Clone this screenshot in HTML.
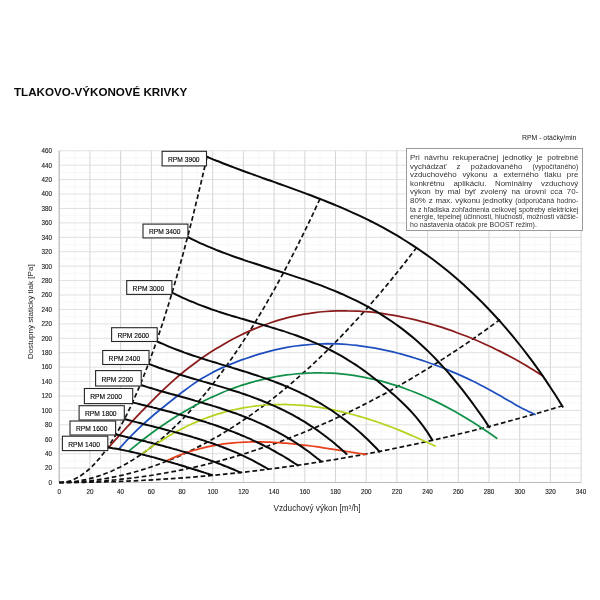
<!DOCTYPE html>
<html lang="sk">
<head>
<meta charset="utf-8">
<title>Tlakovo-výkonové krivky</title>
<style>
html,body{margin:0;padding:0;background:#fff;}
body{width:600px;height:600px;position:relative;overflow:hidden;font-family:"Liberation Sans",sans-serif;}
svg{filter:blur(0.3px);}
#note{filter:blur(0.3px);}
svg text{font-family:"Liberation Sans",sans-serif;fill:#222;}
.mn{stroke:#f7f7f7;stroke-width:0.9;}
.mj{stroke:#cecece;stroke-width:0.85;}
.mh{stroke:#dbdbdb;stroke-width:0.85;}
.ax{stroke:#bcbcbc;stroke-width:1.1;}
.tk{font-size:6.3px;fill:#1a1a1a;stroke:#1a1a1a;stroke-width:0.12;}
.ds{fill:none;stroke:#111;stroke-width:1.7;}
.rp{fill:none;stroke:#0a0a0a;stroke-width:2.0;stroke-linecap:round;}
.bx{fill:#fff;stroke:#262626;stroke-width:1.1;}
.lb{font-size:6.7px;fill:#000;stroke:#000;stroke-width:0.12;}
.at{font-size:8.2px;fill:#222;}
.ti{font-size:11.6px;font-weight:bold;fill:#080808;}
.rn{font-size:6.9px;fill:#222;}
#note{position:absolute;left:406px;top:148.2px;width:174.6px;height:81.3px;border:1px solid #9a9a9a;background:#fff;}
#note div{position:absolute;left:3.1px;width:168.2px;height:8px;line-height:8px;font-size:7.9px;color:#333;white-space:nowrap;text-align:justify;text-align-last:justify;}
#note div.sm{font-size:6.95px;}
#note div.last{text-align-last:left;}
#note span{font-size:6.95px;}
</style>
</head>
<body>
<svg width="600" height="600" viewBox="0 0 600 600" style="position:absolute;left:0;top:0">
<g><line x1="74.55" y1="150.79" x2="74.55" y2="482.50" class="mn"/><line x1="105.25" y1="150.79" x2="105.25" y2="482.50" class="mn"/><line x1="135.95" y1="150.79" x2="135.95" y2="482.50" class="mn"/><line x1="166.65" y1="150.79" x2="166.65" y2="482.50" class="mn"/><line x1="197.35" y1="150.79" x2="197.35" y2="482.50" class="mn"/><line x1="228.05" y1="150.79" x2="228.05" y2="482.50" class="mn"/><line x1="258.75" y1="150.79" x2="258.75" y2="482.50" class="mn"/><line x1="289.45" y1="150.79" x2="289.45" y2="482.50" class="mn"/><line x1="320.15" y1="150.79" x2="320.15" y2="482.50" class="mn"/><line x1="350.85" y1="150.79" x2="350.85" y2="482.50" class="mn"/><line x1="381.55" y1="150.79" x2="381.55" y2="482.50" class="mn"/><line x1="412.25" y1="150.79" x2="412.25" y2="482.50" class="mn"/><line x1="442.95" y1="150.79" x2="442.95" y2="482.50" class="mn"/><line x1="473.65" y1="150.79" x2="473.65" y2="482.50" class="mn"/><line x1="504.35" y1="150.79" x2="504.35" y2="482.50" class="mn"/><line x1="535.05" y1="150.79" x2="535.05" y2="482.50" class="mn"/><line x1="565.75" y1="150.79" x2="565.75" y2="482.50" class="mn"/><line x1="59.20" y1="475.29" x2="581.10" y2="475.29" class="mn"/><line x1="59.20" y1="460.87" x2="581.10" y2="460.87" class="mn"/><line x1="59.20" y1="446.44" x2="581.10" y2="446.44" class="mn"/><line x1="59.20" y1="432.02" x2="581.10" y2="432.02" class="mn"/><line x1="59.20" y1="417.60" x2="581.10" y2="417.60" class="mn"/><line x1="59.20" y1="403.18" x2="581.10" y2="403.18" class="mn"/><line x1="59.20" y1="388.76" x2="581.10" y2="388.76" class="mn"/><line x1="59.20" y1="374.34" x2="581.10" y2="374.34" class="mn"/><line x1="59.20" y1="359.91" x2="581.10" y2="359.91" class="mn"/><line x1="59.20" y1="345.49" x2="581.10" y2="345.49" class="mn"/><line x1="59.20" y1="331.07" x2="581.10" y2="331.07" class="mn"/><line x1="59.20" y1="316.65" x2="581.10" y2="316.65" class="mn"/><line x1="59.20" y1="302.23" x2="581.10" y2="302.23" class="mn"/><line x1="59.20" y1="287.80" x2="581.10" y2="287.80" class="mn"/><line x1="59.20" y1="273.38" x2="581.10" y2="273.38" class="mn"/><line x1="59.20" y1="258.96" x2="581.10" y2="258.96" class="mn"/><line x1="59.20" y1="244.54" x2="581.10" y2="244.54" class="mn"/><line x1="59.20" y1="230.12" x2="581.10" y2="230.12" class="mn"/><line x1="59.20" y1="215.69" x2="581.10" y2="215.69" class="mn"/><line x1="59.20" y1="201.27" x2="581.10" y2="201.27" class="mn"/><line x1="59.20" y1="186.85" x2="581.10" y2="186.85" class="mn"/><line x1="59.20" y1="172.43" x2="581.10" y2="172.43" class="mn"/><line x1="59.20" y1="158.00" x2="581.10" y2="158.00" class="mn"/><line x1="59.20" y1="150.79" x2="59.20" y2="482.50" class="mj"/><line x1="89.90" y1="150.79" x2="89.90" y2="482.50" class="mj"/><line x1="120.60" y1="150.79" x2="120.60" y2="482.50" class="mj"/><line x1="151.30" y1="150.79" x2="151.30" y2="482.50" class="mj"/><line x1="182.00" y1="150.79" x2="182.00" y2="482.50" class="mj"/><line x1="212.70" y1="150.79" x2="212.70" y2="482.50" class="mj"/><line x1="243.40" y1="150.79" x2="243.40" y2="482.50" class="mj"/><line x1="274.10" y1="150.79" x2="274.10" y2="482.50" class="mj"/><line x1="304.80" y1="150.79" x2="304.80" y2="482.50" class="mj"/><line x1="335.50" y1="150.79" x2="335.50" y2="482.50" class="mj"/><line x1="366.20" y1="150.79" x2="366.20" y2="482.50" class="mj"/><line x1="396.90" y1="150.79" x2="396.90" y2="482.50" class="mj"/><line x1="427.60" y1="150.79" x2="427.60" y2="482.50" class="mj"/><line x1="458.30" y1="150.79" x2="458.30" y2="482.50" class="mj"/><line x1="489.00" y1="150.79" x2="489.00" y2="482.50" class="mj"/><line x1="519.70" y1="150.79" x2="519.70" y2="482.50" class="mj"/><line x1="550.40" y1="150.79" x2="550.40" y2="482.50" class="mj"/><line x1="581.10" y1="150.79" x2="581.10" y2="482.50" class="mj"/><line x1="59.20" y1="482.50" x2="581.10" y2="482.50" class="mh"/><line x1="59.20" y1="468.08" x2="581.10" y2="468.08" class="mh"/><line x1="59.20" y1="453.66" x2="581.10" y2="453.66" class="mh"/><line x1="59.20" y1="439.23" x2="581.10" y2="439.23" class="mh"/><line x1="59.20" y1="424.81" x2="581.10" y2="424.81" class="mh"/><line x1="59.20" y1="410.39" x2="581.10" y2="410.39" class="mh"/><line x1="59.20" y1="395.97" x2="581.10" y2="395.97" class="mh"/><line x1="59.20" y1="381.55" x2="581.10" y2="381.55" class="mh"/><line x1="59.20" y1="367.12" x2="581.10" y2="367.12" class="mh"/><line x1="59.20" y1="352.70" x2="581.10" y2="352.70" class="mh"/><line x1="59.20" y1="338.28" x2="581.10" y2="338.28" class="mh"/><line x1="59.20" y1="323.86" x2="581.10" y2="323.86" class="mh"/><line x1="59.20" y1="309.44" x2="581.10" y2="309.44" class="mh"/><line x1="59.20" y1="295.01" x2="581.10" y2="295.01" class="mh"/><line x1="59.20" y1="280.59" x2="581.10" y2="280.59" class="mh"/><line x1="59.20" y1="266.17" x2="581.10" y2="266.17" class="mh"/><line x1="59.20" y1="251.75" x2="581.10" y2="251.75" class="mh"/><line x1="59.20" y1="237.33" x2="581.10" y2="237.33" class="mh"/><line x1="59.20" y1="222.90" x2="581.10" y2="222.90" class="mh"/><line x1="59.20" y1="208.48" x2="581.10" y2="208.48" class="mh"/><line x1="59.20" y1="194.06" x2="581.10" y2="194.06" class="mh"/><line x1="59.20" y1="179.64" x2="581.10" y2="179.64" class="mh"/><line x1="59.20" y1="165.22" x2="581.10" y2="165.22" class="mh"/><line x1="59.20" y1="150.79" x2="581.10" y2="150.79" class="mh"/></g>
<line x1="59.20" y1="150.79" x2="59.20" y2="482.50" class="ax"/>
<line x1="59.20" y1="482.50" x2="581.10" y2="482.50" class="ax"/>
<g><text x="52" y="484.8" text-anchor="end" class="tk">0</text><text x="52" y="470.4" text-anchor="end" class="tk">20</text><text x="52" y="456.0" text-anchor="end" class="tk">40</text><text x="52" y="441.5" text-anchor="end" class="tk">60</text><text x="52" y="427.1" text-anchor="end" class="tk">80</text><text x="52" y="412.7" text-anchor="end" class="tk">100</text><text x="52" y="398.3" text-anchor="end" class="tk">120</text><text x="52" y="383.8" text-anchor="end" class="tk">140</text><text x="52" y="369.4" text-anchor="end" class="tk">160</text><text x="52" y="355.0" text-anchor="end" class="tk">180</text><text x="52" y="340.6" text-anchor="end" class="tk">200</text><text x="52" y="326.2" text-anchor="end" class="tk">220</text><text x="52" y="311.7" text-anchor="end" class="tk">240</text><text x="52" y="297.3" text-anchor="end" class="tk">260</text><text x="52" y="282.9" text-anchor="end" class="tk">280</text><text x="52" y="268.5" text-anchor="end" class="tk">300</text><text x="52" y="254.0" text-anchor="end" class="tk">320</text><text x="52" y="239.6" text-anchor="end" class="tk">340</text><text x="52" y="225.2" text-anchor="end" class="tk">360</text><text x="52" y="210.8" text-anchor="end" class="tk">380</text><text x="52" y="196.4" text-anchor="end" class="tk">400</text><text x="52" y="181.9" text-anchor="end" class="tk">420</text><text x="52" y="167.5" text-anchor="end" class="tk">440</text><text x="52" y="153.1" text-anchor="end" class="tk">460</text><text x="59.2" y="494.2" text-anchor="middle" class="tk">0</text><text x="89.9" y="494.2" text-anchor="middle" class="tk">20</text><text x="120.6" y="494.2" text-anchor="middle" class="tk">40</text><text x="151.3" y="494.2" text-anchor="middle" class="tk">60</text><text x="182.0" y="494.2" text-anchor="middle" class="tk">80</text><text x="212.7" y="494.2" text-anchor="middle" class="tk">100</text><text x="243.4" y="494.2" text-anchor="middle" class="tk">120</text><text x="274.1" y="494.2" text-anchor="middle" class="tk">140</text><text x="304.8" y="494.2" text-anchor="middle" class="tk">160</text><text x="335.5" y="494.2" text-anchor="middle" class="tk">180</text><text x="366.2" y="494.2" text-anchor="middle" class="tk">200</text><text x="396.9" y="494.2" text-anchor="middle" class="tk">220</text><text x="427.6" y="494.2" text-anchor="middle" class="tk">240</text><text x="458.3" y="494.2" text-anchor="middle" class="tk">260</text><text x="489.0" y="494.2" text-anchor="middle" class="tk">280</text><text x="519.7" y="494.2" text-anchor="middle" class="tk">300</text><text x="550.4" y="494.2" text-anchor="middle" class="tk">320</text><text x="581.1" y="494.2" text-anchor="middle" class="tk">340</text></g>
<path d="M59.2 482.5 C59.8 482.5 61.7 482.4 62.9 482.3 C64.1 482.2 65.3 482.0 66.6 481.7 C67.8 481.4 69.0 481.1 70.3 480.7 C71.5 480.3 72.7 479.8 74.0 479.3 C75.2 478.7 76.4 478.1 77.6 477.4 C78.9 476.8 80.1 476.0 81.3 475.2 C82.6 474.4 83.8 473.5 85.0 472.6 C86.2 471.6 87.5 470.6 88.7 469.5 C89.9 468.4 91.2 467.3 92.4 466.1 C93.6 464.9 94.8 463.6 96.1 462.2 C97.3 460.9 98.5 459.5 99.8 458.0 C101.0 456.5 102.2 454.9 103.5 453.3 C104.7 451.7 105.9 450.0 107.1 448.2 C108.4 446.5 109.6 444.7 110.8 442.8 C112.1 440.9 113.3 438.9 114.5 436.9 C115.7 434.9 117.0 432.8 118.2 430.6 C119.4 428.4 120.7 426.2 121.9 423.9 C123.1 421.6 124.4 419.3 125.6 416.8 C126.8 414.4 128.0 411.9 129.3 409.3 C130.5 406.8 131.7 404.1 133.0 401.4 C134.2 398.7 135.4 395.9 136.6 393.1 C137.9 390.3 139.1 387.4 140.3 384.4 C141.6 381.4 142.8 378.4 144.0 375.3 C145.2 372.2 146.5 369.0 147.7 365.7 C148.9 362.5 150.2 359.2 151.4 355.8 C152.6 352.4 153.9 349.0 155.1 345.5 C156.3 342.0 157.5 338.4 158.8 334.7 C160.0 331.1 161.2 327.4 162.5 323.6 C163.7 319.8 164.9 315.9 166.1 312.0 C167.4 308.1 168.6 304.1 169.8 300.1 C171.1 296.0 172.3 291.9 173.5 287.7 C174.8 283.5 176.0 279.3 177.2 274.9 C178.4 270.6 179.7 266.2 180.9 261.8 C182.1 257.3 183.4 252.8 184.6 248.2 C185.8 243.6 187.0 238.9 188.3 234.2 C189.5 229.5 190.7 224.7 192.0 219.8 C193.2 214.9 194.4 210.0 195.6 205.0 C196.9 200.0 198.1 194.9 199.3 189.8 C200.6 184.7 201.8 179.5 203.0 174.2 C204.3 168.9 206.1 160.9 206.7 158.2" class="ds" stroke-dasharray="4.70 2.74"/>
<path d="M59.2 482.5 C60.3 482.5 63.5 482.4 65.7 482.3 C67.9 482.2 70.1 482.0 72.2 481.8 C74.4 481.6 76.6 481.3 78.8 480.9 C80.9 480.5 83.1 480.1 85.3 479.7 C87.5 479.2 89.6 478.7 91.8 478.1 C94.0 477.5 96.1 476.8 98.3 476.1 C100.5 475.4 102.7 474.6 104.8 473.8 C107.0 473.0 109.2 472.1 111.4 471.2 C113.5 470.2 115.7 469.2 117.9 468.1 C120.1 467.1 122.2 466.0 124.4 464.8 C126.6 463.6 128.7 462.3 130.9 461.0 C133.1 459.7 135.3 458.4 137.4 457.0 C139.6 455.5 141.8 454.1 144.0 452.5 C146.1 451.0 148.3 449.4 150.5 447.7 C152.7 446.1 154.8 444.4 157.0 442.6 C159.2 440.8 161.3 439.0 163.5 437.1 C165.7 435.2 167.9 433.3 170.0 431.3 C172.2 429.2 174.4 427.2 176.6 425.0 C178.7 422.9 180.9 420.7 183.1 418.5 C185.3 416.2 187.4 413.9 189.6 411.6 C191.8 409.2 193.9 406.8 196.1 404.3 C198.3 401.8 200.5 399.3 202.6 396.7 C204.8 394.1 207.0 391.4 209.2 388.7 C211.3 386.0 213.5 383.2 215.7 380.4 C217.9 377.5 220.0 374.6 222.2 371.7 C224.4 368.7 226.5 365.7 228.7 362.6 C230.9 359.6 233.1 356.4 235.2 353.2 C237.4 350.0 239.6 346.8 241.8 343.5 C243.9 340.2 246.1 336.8 248.3 333.4 C250.5 329.9 252.6 326.5 254.8 322.9 C257.0 319.4 259.1 315.8 261.3 312.1 C263.5 308.4 265.7 304.7 267.8 300.9 C270.0 297.1 272.2 293.3 274.4 289.4 C276.5 285.5 278.7 281.5 280.9 277.5 C283.1 273.5 285.2 269.4 287.4 265.3 C289.6 261.1 291.7 256.9 293.9 252.7 C296.1 248.4 298.3 244.1 300.4 239.7 C302.6 235.4 304.8 230.9 307.0 226.4 C309.1 222.0 311.3 217.4 313.5 212.8 C315.6 208.2 318.9 201.1 320.0 198.8" class="ds" stroke-dasharray="4.70 2.82"/>
<path d="M59.2 482.5 C60.7 482.5 65.2 482.5 68.1 482.4 C71.1 482.3 74.1 482.1 77.1 481.9 C80.1 481.7 83.0 481.5 86.0 481.2 C89.0 480.9 92.0 480.5 95.0 480.1 C97.9 479.8 100.9 479.3 103.9 478.8 C106.9 478.3 109.8 477.8 112.8 477.2 C115.8 476.6 118.8 476.0 121.8 475.3 C124.7 474.6 127.7 473.9 130.7 473.1 C133.7 472.3 136.7 471.5 139.6 470.6 C142.6 469.7 145.6 468.8 148.6 467.8 C151.6 466.8 154.5 465.8 157.5 464.7 C160.5 463.6 163.5 462.5 166.5 461.3 C169.4 460.2 172.4 458.9 175.4 457.7 C178.4 456.4 181.3 455.1 184.3 453.7 C187.3 452.3 190.3 450.9 193.3 449.4 C196.2 448.0 199.2 446.5 202.2 444.9 C205.2 443.3 208.2 441.7 211.1 440.0 C214.1 438.4 217.1 436.7 220.1 434.9 C223.1 433.1 226.0 431.3 229.0 429.5 C232.0 427.6 235.0 425.7 238.0 423.7 C240.9 421.8 243.9 419.8 246.9 417.7 C249.9 415.7 252.8 413.5 255.8 411.4 C258.8 409.2 261.8 407.0 264.8 404.8 C267.7 402.5 270.7 400.2 273.7 397.9 C276.7 395.5 279.7 393.1 282.6 390.7 C285.6 388.2 288.6 385.7 291.6 383.2 C294.6 380.6 297.5 378.0 300.5 375.4 C303.5 372.7 306.5 370.1 309.5 367.3 C312.4 364.6 315.4 361.8 318.4 358.9 C321.4 356.1 324.3 353.2 327.3 350.3 C330.3 347.3 333.3 344.3 336.3 341.3 C339.2 338.3 342.2 335.2 345.2 332.1 C348.2 328.9 351.2 325.7 354.1 322.5 C357.1 319.3 360.1 316.0 363.1 312.7 C366.1 309.3 369.0 305.9 372.0 302.5 C375.0 299.1 378.0 295.6 381.0 292.1 C383.9 288.6 386.9 285.0 389.9 281.4 C392.9 277.7 395.8 274.1 398.8 270.3 C401.8 266.6 404.8 262.9 407.8 259.0 C410.7 255.2 415.2 249.4 416.7 247.4" class="ds" stroke-dasharray="4.70 2.86"/>
<path d="M59.2 482.5 C61.0 482.5 66.5 482.5 70.2 482.4 C73.9 482.3 77.6 482.2 81.2 482.1 C84.9 482.0 88.6 481.8 92.3 481.6 C95.9 481.4 99.6 481.1 103.3 480.9 C107.0 480.6 110.6 480.3 114.3 480.0 C118.0 479.6 121.7 479.2 125.3 478.8 C129.0 478.4 132.7 478.0 136.3 477.5 C140.0 477.0 143.7 476.5 147.4 476.0 C151.0 475.4 154.7 474.9 158.4 474.2 C162.1 473.6 165.7 473.0 169.4 472.3 C173.1 471.6 176.8 470.9 180.4 470.2 C184.1 469.4 187.8 468.6 191.5 467.8 C195.1 467.0 198.8 466.2 202.5 465.3 C206.2 464.4 209.8 463.5 213.5 462.5 C217.2 461.6 220.8 460.6 224.5 459.6 C228.2 458.6 231.9 457.5 235.5 456.4 C239.2 455.3 242.9 454.2 246.6 453.1 C250.2 451.9 253.9 450.7 257.6 449.5 C261.3 448.3 264.9 447.0 268.6 445.7 C272.3 444.4 276.0 443.1 279.6 441.8 C283.3 440.4 287.0 439.0 290.6 437.6 C294.3 436.2 298.0 434.7 301.7 433.2 C305.3 431.7 309.0 430.2 312.7 428.6 C316.4 427.1 320.0 425.5 323.7 423.8 C327.4 422.2 331.1 420.5 334.7 418.8 C338.4 417.1 342.1 415.4 345.8 413.6 C349.4 411.9 353.1 410.1 356.8 408.2 C360.4 406.4 364.1 404.5 367.8 402.6 C371.5 400.7 375.1 398.8 378.8 396.8 C382.5 394.9 386.2 392.9 389.8 390.8 C393.5 388.8 397.2 386.7 400.9 384.6 C404.5 382.5 408.2 380.4 411.9 378.2 C415.6 376.0 419.2 373.8 422.9 371.6 C426.6 369.3 430.3 367.1 433.9 364.8 C437.6 362.4 441.3 360.1 444.9 357.7 C448.6 355.3 452.3 352.9 456.0 350.5 C459.6 348.0 463.3 345.6 467.0 343.1 C470.7 340.5 474.3 338.0 478.0 335.4 C481.7 332.8 485.4 330.2 489.0 327.6 C492.7 324.9 498.2 320.9 500.1 319.5" class="ds" stroke-dasharray="4.70 2.82"/>
<path d="M59.2 482.5 C61.3 482.5 67.6 482.5 71.8 482.5 C76.0 482.4 80.2 482.4 84.4 482.3 C88.6 482.2 92.8 482.2 97.0 482.1 C101.2 482.0 105.4 481.9 109.5 481.7 C113.7 481.6 117.9 481.5 122.1 481.3 C126.3 481.1 130.5 481.0 134.7 480.8 C138.9 480.6 143.1 480.4 147.3 480.1 C151.5 479.9 155.7 479.7 159.9 479.4 C164.1 479.2 168.3 478.9 172.5 478.6 C176.7 478.3 180.9 478.0 185.1 477.7 C189.3 477.4 193.5 477.0 197.7 476.7 C201.9 476.3 206.0 476.0 210.2 475.6 C214.4 475.2 218.6 474.8 222.8 474.4 C227.0 474.0 231.2 473.5 235.4 473.1 C239.6 472.6 243.8 472.2 248.0 471.7 C252.2 471.2 256.4 470.7 260.6 470.2 C264.8 469.7 269.0 469.2 273.2 468.6 C277.4 468.1 281.6 467.5 285.8 466.9 C290.0 466.4 294.2 465.8 298.4 465.2 C302.5 464.6 306.7 463.9 310.9 463.3 C315.1 462.7 319.3 462.0 323.5 461.3 C327.7 460.7 331.9 460.0 336.1 459.3 C340.3 458.6 344.5 457.8 348.7 457.1 C352.9 456.4 357.1 455.6 361.3 454.9 C365.5 454.1 369.7 453.3 373.9 452.5 C378.1 451.7 382.3 450.9 386.5 450.1 C390.7 449.2 394.9 448.4 399.0 447.5 C403.2 446.6 407.4 445.8 411.6 444.9 C415.8 444.0 420.0 443.1 424.2 442.1 C428.4 441.2 432.6 440.3 436.8 439.3 C441.0 438.3 445.2 437.4 449.4 436.4 C453.6 435.4 457.8 434.4 462.0 433.3 C466.2 432.3 470.4 431.3 474.6 430.2 C478.8 429.2 483.0 428.1 487.2 427.0 C491.4 425.9 495.5 424.8 499.7 423.7 C503.9 422.6 508.1 421.4 512.3 420.3 C516.5 419.1 520.7 418.0 524.9 416.8 C529.1 415.6 533.3 414.4 537.5 413.2 C541.7 412.0 545.9 410.7 550.1 409.5 C554.3 408.2 560.6 406.3 562.7 405.7" class="ds" stroke-dasharray="4.70 2.75"/>
<path d="M108.7 447.5 C110.5 445.5 115.9 439.2 119.5 435.2 C123.2 431.2 126.8 427.2 130.4 423.4 C134.0 419.5 137.6 415.7 141.2 411.9 C144.9 408.2 148.5 404.5 152.1 400.9 C155.7 397.3 159.3 393.7 162.9 390.2 C166.6 386.8 170.2 383.4 173.8 380.1 C177.4 376.9 181.0 373.9 184.6 371.0 C188.2 368.1 191.9 365.3 195.5 362.7 C199.1 360.0 202.7 357.5 206.3 355.1 C209.9 352.6 213.6 350.3 217.2 348.1 C220.8 345.9 224.4 343.8 228.0 341.7 C231.6 339.7 235.3 337.8 238.9 336.0 C242.5 334.2 246.1 332.5 249.7 330.9 C253.3 329.3 256.9 327.8 260.6 326.4 C264.2 325.0 267.8 323.7 271.4 322.5 C275.0 321.3 278.6 320.2 282.3 319.2 C285.9 318.2 289.5 317.3 293.1 316.4 C296.7 315.6 300.3 314.9 304.0 314.2 C307.6 313.6 311.2 313.1 314.8 312.6 C318.4 312.1 322.0 311.8 325.6 311.5 C329.3 311.2 332.9 311.0 336.5 310.9 C340.1 310.8 343.7 310.7 347.3 310.8 C351.0 310.8 354.6 310.9 358.2 311.1 C361.8 311.3 365.4 311.6 369.0 311.9 C372.7 312.2 376.3 312.7 379.9 313.1 C383.5 313.6 387.1 314.2 390.7 314.8 C394.4 315.4 398.0 316.1 401.6 316.8 C405.2 317.5 408.8 318.3 412.4 319.2 C416.0 320.0 419.7 321.0 423.3 321.9 C426.9 322.9 430.5 323.9 434.1 325.0 C437.7 326.1 441.4 327.2 445.0 328.4 C448.6 329.6 452.2 330.9 455.8 332.2 C459.4 333.5 463.1 334.9 466.7 336.3 C470.3 337.8 473.9 339.3 477.5 340.8 C481.1 342.4 484.7 344.0 488.4 345.7 C492.0 347.4 495.6 349.1 499.2 350.9 C502.8 352.7 506.4 354.6 510.1 356.6 C513.7 358.5 517.3 360.5 520.9 362.6 C524.5 364.6 528.1 366.8 531.8 369.0 C535.4 371.2 540.8 374.7 542.6 375.8" fill="none" stroke="#8b1a1a" stroke-width="1.75" stroke-linecap="round"/>
<path d="M119.0 449.0 C120.7 447.1 125.9 441.2 129.4 437.6 C132.9 434.0 136.3 430.6 139.8 427.3 C143.3 424.1 146.7 421.0 150.2 418.0 C153.7 415.0 157.1 412.1 160.6 409.3 C164.1 406.5 167.5 403.7 171.0 401.0 C174.5 398.2 177.9 395.5 181.4 392.8 C184.9 390.2 188.3 387.6 191.8 385.1 C195.3 382.7 198.7 380.4 202.2 378.3 C205.7 376.2 209.1 374.3 212.6 372.4 C216.1 370.6 219.5 369.0 223.0 367.4 C226.5 365.9 229.9 364.4 233.4 363.1 C236.9 361.7 240.3 360.4 243.8 359.2 C247.3 358.0 250.7 356.8 254.2 355.7 C257.7 354.6 261.1 353.6 264.6 352.6 C268.1 351.6 271.5 350.7 275.0 349.9 C278.5 349.1 281.9 348.4 285.4 347.7 C288.9 347.1 292.3 346.5 295.8 346.0 C299.3 345.5 302.7 345.1 306.2 344.8 C309.7 344.4 313.1 344.2 316.6 344.0 C320.1 343.8 323.5 343.8 327.0 343.7 C330.5 343.7 333.9 343.8 337.4 343.9 C340.9 344.1 344.3 344.3 347.8 344.5 C351.3 344.8 354.7 345.2 358.2 345.6 C361.7 346.0 365.1 346.5 368.6 347.1 C372.1 347.6 375.5 348.2 379.0 348.9 C382.5 349.6 385.9 350.3 389.4 351.1 C392.9 351.9 396.3 352.8 399.8 353.7 C403.3 354.6 406.7 355.6 410.2 356.6 C413.7 357.7 417.1 358.8 420.6 359.9 C424.1 361.0 427.5 362.2 431.0 363.5 C434.5 364.7 437.9 366.0 441.4 367.3 C444.9 368.7 448.3 370.1 451.8 371.6 C455.3 373.0 458.7 374.5 462.2 376.1 C465.7 377.7 469.1 379.3 472.6 381.0 C476.1 382.7 479.5 384.5 483.0 386.3 C486.5 388.1 489.9 390.0 493.4 391.9 C496.9 393.8 500.3 395.9 503.8 397.9 C507.3 399.8 510.7 401.9 514.2 403.9 C517.7 405.8 521.1 407.8 524.6 409.5 C528.1 411.3 533.3 413.7 535.0 414.5" fill="none" stroke="#1f4fbf" stroke-width="1.75" stroke-linecap="round"/>
<path d="M129.4 450.6 C130.9 449.4 135.5 445.5 138.6 443.1 C141.6 440.7 144.7 438.3 147.8 436.0 C150.8 433.7 153.9 431.5 156.9 429.3 C160.0 427.1 163.1 425.0 166.1 423.0 C169.2 420.9 172.3 418.9 175.3 417.0 C178.4 415.1 181.4 413.3 184.5 411.5 C187.6 409.7 190.6 407.9 193.7 406.3 C196.7 404.6 199.8 403.0 202.9 401.5 C205.9 399.9 209.0 398.5 212.0 397.1 C215.1 395.6 218.2 394.3 221.2 393.0 C224.3 391.7 227.3 390.5 230.4 389.3 C233.5 388.2 236.5 387.1 239.6 386.0 C242.7 385.0 245.7 384.0 248.8 383.1 C251.8 382.2 254.9 381.3 258.0 380.6 C261.0 379.8 264.1 379.0 267.1 378.4 C270.2 377.7 273.3 377.1 276.3 376.5 C279.4 376.0 282.4 375.5 285.5 375.1 C288.6 374.7 291.6 374.3 294.7 374.0 C297.7 373.7 300.8 373.4 303.9 373.3 C306.9 373.1 310.0 372.9 313.0 372.9 C316.1 372.8 319.2 372.8 322.2 372.9 C325.3 372.9 328.4 373.0 331.4 373.2 C334.5 373.4 337.5 373.6 340.6 373.9 C343.7 374.2 346.7 374.5 349.8 374.9 C352.8 375.3 355.9 375.8 359.0 376.3 C362.0 376.9 365.1 377.4 368.1 378.1 C371.2 378.7 374.3 379.4 377.3 380.2 C380.4 380.9 383.4 381.7 386.5 382.6 C389.6 383.5 392.6 384.4 395.7 385.4 C398.8 386.4 401.8 387.4 404.9 388.5 C407.9 389.6 411.0 390.8 414.1 392.0 C417.1 393.2 420.2 394.5 423.2 395.8 C426.3 397.1 429.4 398.5 432.4 399.9 C435.5 401.4 438.5 402.9 441.6 404.4 C444.7 406.0 447.7 407.6 450.8 409.3 C453.8 410.9 456.9 412.6 460.0 414.4 C463.0 416.2 466.1 418.0 469.2 419.9 C472.2 421.8 475.3 423.7 478.3 425.7 C481.4 427.7 484.5 429.7 487.5 431.8 C490.6 433.9 495.2 437.2 496.7 438.3" fill="none" stroke="#109048" stroke-width="1.75" stroke-linecap="round"/>
<path d="M142.0 454.0 C143.2 453.1 146.9 450.4 149.3 448.6 C151.8 446.9 154.2 445.2 156.7 443.6 C159.1 442.0 161.5 440.4 164.0 438.9 C166.4 437.4 168.9 435.9 171.3 434.5 C173.7 433.1 176.2 431.8 178.6 430.5 C181.1 429.2 183.5 427.9 185.9 426.7 C188.4 425.5 190.8 424.4 193.3 423.3 C195.7 422.2 198.2 421.2 200.6 420.2 C203.0 419.2 205.5 418.3 207.9 417.4 C210.4 416.5 212.8 415.7 215.2 414.9 C217.7 414.1 220.1 413.3 222.6 412.6 C225.0 411.9 227.5 411.3 229.9 410.7 C232.3 410.1 234.8 409.5 237.2 409.0 C239.7 408.5 242.1 408.0 244.6 407.6 C247.0 407.2 249.4 406.8 251.9 406.5 C254.3 406.1 256.8 405.8 259.2 405.6 C261.6 405.3 264.1 405.1 266.5 405.0 C269.0 404.8 271.4 404.7 273.9 404.6 C276.3 404.5 278.7 404.5 281.2 404.5 C283.6 404.4 286.1 404.5 288.5 404.6 C290.9 404.6 293.4 404.7 295.8 404.9 C298.3 405.0 300.7 405.2 303.1 405.4 C305.6 405.6 308.0 405.9 310.5 406.2 C312.9 406.5 315.4 406.8 317.8 407.2 C320.2 407.5 322.7 407.9 325.1 408.3 C327.6 408.8 330.0 409.2 332.5 409.7 C334.9 410.2 337.3 410.7 339.8 411.3 C342.2 411.8 344.7 412.4 347.1 413.0 C349.5 413.6 352.0 414.3 354.4 415.0 C356.9 415.6 359.3 416.3 361.8 417.0 C364.2 417.8 366.6 418.5 369.1 419.3 C371.5 420.1 374.0 420.9 376.4 421.7 C378.8 422.6 381.3 423.4 383.7 424.3 C386.2 425.2 388.6 426.1 391.1 427.0 C393.5 427.9 395.9 428.9 398.4 429.9 C400.8 430.8 403.3 431.8 405.7 432.9 C408.1 433.9 410.6 434.9 413.0 436.0 C415.5 437.0 417.9 438.1 420.4 439.2 C422.8 440.3 425.2 441.4 427.7 442.5 C430.1 443.7 433.8 445.4 435.0 446.0" fill="none" stroke="#b5d21c" stroke-width="1.75" stroke-linecap="round"/>
<path d="M166.0 461.0 C166.8 460.6 169.3 459.4 171.0 458.7 C172.7 458.0 174.3 457.3 176.0 456.6 C177.7 455.9 179.3 455.3 181.0 454.6 C182.7 454.0 184.3 453.4 186.0 452.8 C187.7 452.3 189.3 451.7 191.0 451.2 C192.7 450.7 194.3 450.2 196.0 449.7 C197.7 449.3 199.3 448.8 201.0 448.4 C202.7 448.0 204.3 447.6 206.0 447.2 C207.7 446.8 209.3 446.5 211.0 446.1 C212.7 445.8 214.3 445.5 216.0 445.2 C217.7 444.9 219.3 444.6 221.0 444.4 C222.7 444.1 224.3 443.9 226.0 443.7 C227.7 443.5 229.3 443.3 231.0 443.1 C232.7 443.0 234.3 442.8 236.0 442.7 C237.7 442.6 239.3 442.4 241.0 442.3 C242.7 442.2 244.3 442.2 246.0 442.1 C247.7 442.0 249.3 442.0 251.0 441.9 C252.7 441.9 254.3 441.9 256.0 441.9 C257.7 441.9 259.3 441.9 261.0 441.9 C262.7 442.0 264.3 442.0 266.0 442.0 C267.7 442.1 269.3 442.2 271.0 442.2 C272.7 442.3 274.3 442.4 276.0 442.5 C277.7 442.6 279.3 442.7 281.0 442.8 C282.7 443.0 284.3 443.1 286.0 443.2 C287.7 443.4 289.3 443.5 291.0 443.7 C292.7 443.9 294.3 444.0 296.0 444.2 C297.7 444.4 299.3 444.6 301.0 444.8 C302.7 445.0 304.3 445.2 306.0 445.4 C307.7 445.6 309.3 445.8 311.0 446.0 C312.7 446.3 314.3 446.5 316.0 446.7 C317.7 447.0 319.3 447.2 321.0 447.4 C322.7 447.7 324.3 447.9 326.0 448.2 C327.7 448.4 329.3 448.7 331.0 448.9 C332.7 449.2 334.3 449.4 336.0 449.7 C337.7 450.0 339.3 450.2 341.0 450.5 C342.7 450.8 344.3 451.0 346.0 451.3 C347.7 451.5 349.3 451.8 351.0 452.1 C352.7 452.3 354.3 452.6 356.0 452.9 C357.7 453.1 359.3 453.4 361.0 453.6 C362.7 453.9 365.2 454.3 366.0 454.4" fill="none" stroke="#e8401c" stroke-width="1.75" stroke-linecap="round"/>
<path d="M207.0 156.8 C208.5 157.4 212.9 159.3 215.9 160.5 C218.9 161.6 221.8 162.8 224.8 164.0 C227.7 165.1 230.7 166.3 233.7 167.4 C236.6 168.5 239.6 169.6 242.6 170.7 C245.5 171.8 248.5 172.9 251.5 173.9 C254.4 175.0 257.4 176.1 260.4 177.1 C263.3 178.2 266.3 179.2 269.2 180.3 C272.2 181.4 275.2 182.4 278.1 183.5 C281.1 184.5 284.1 185.6 287.0 186.6 C290.0 187.7 293.0 188.8 295.9 189.9 C298.9 190.9 301.9 192.0 304.8 193.1 C307.8 194.2 310.7 195.4 313.7 196.5 C316.7 197.6 319.6 198.8 322.6 199.9 C325.6 201.1 328.5 202.3 331.5 203.5 C334.5 204.7 337.4 206.0 340.4 207.2 C343.4 208.5 346.3 209.8 349.3 211.1 C352.2 212.4 355.2 213.8 358.2 215.2 C361.1 216.5 364.1 218.0 367.1 219.4 C370.0 220.9 373.0 222.4 376.0 223.9 C378.9 225.5 381.9 227.0 384.9 228.7 C387.8 230.3 390.8 232.0 393.7 233.7 C396.7 235.4 399.7 237.1 402.6 239.0 C405.6 240.8 408.6 242.7 411.5 244.6 C414.5 246.5 417.5 248.5 420.4 250.5 C423.4 252.6 426.3 254.7 429.3 256.8 C432.3 259.0 435.2 261.2 438.2 263.5 C441.2 265.8 444.1 268.1 447.1 270.5 C450.1 272.9 453.0 275.4 456.0 278.0 C459.0 280.5 461.9 283.2 464.9 285.9 C467.8 288.5 470.8 291.3 473.8 294.2 C476.7 297.0 479.7 299.9 482.7 302.9 C485.6 305.9 488.6 309.0 491.6 312.2 C494.5 315.3 497.5 318.6 500.5 321.9 C503.4 325.2 506.4 328.7 509.3 332.2 C512.3 335.7 515.3 339.3 518.2 343.0 C521.2 346.7 524.2 350.5 527.1 354.4 C530.1 358.3 533.1 362.3 536.0 366.4 C539.0 370.6 542.0 374.8 544.9 379.1 C547.9 383.5 550.8 388.0 553.8 392.5 C556.8 397.1 561.2 404.3 562.7 406.7" class="rp"/>
<path d="M187.6 237.0 C188.9 237.6 192.6 239.5 195.1 240.7 C197.7 241.9 200.2 243.1 202.7 244.2 C205.2 245.3 207.7 246.4 210.2 247.4 C212.7 248.5 215.3 249.5 217.8 250.5 C220.3 251.5 222.8 252.5 225.3 253.4 C227.8 254.4 230.3 255.3 232.9 256.2 C235.4 257.1 237.9 258.0 240.4 258.8 C242.9 259.7 245.4 260.5 247.9 261.4 C250.5 262.2 253.0 263.0 255.5 263.8 C258.0 264.7 260.5 265.5 263.0 266.3 C265.5 267.1 268.1 267.9 270.6 268.7 C273.1 269.4 275.6 270.2 278.1 271.0 C280.6 271.8 283.1 272.6 285.7 273.4 C288.2 274.2 290.7 275.0 293.2 275.9 C295.7 276.7 298.2 277.5 300.7 278.4 C303.3 279.2 305.8 280.0 308.3 280.9 C310.8 281.8 313.3 282.7 315.8 283.6 C318.3 284.5 320.9 285.4 323.4 286.4 C325.9 287.4 328.4 288.3 330.9 289.4 C333.4 290.4 335.9 291.4 338.5 292.5 C341.0 293.5 343.5 294.7 346.0 295.8 C348.5 296.9 351.0 298.1 353.5 299.3 C356.0 300.5 358.6 301.8 361.1 303.1 C363.6 304.4 366.1 305.7 368.6 307.1 C371.1 308.5 373.6 310.0 376.2 311.4 C378.7 312.9 381.2 314.5 383.7 316.1 C386.2 317.7 388.7 319.3 391.2 321.0 C393.8 322.8 396.3 324.5 398.8 326.4 C401.3 328.2 403.8 330.1 406.3 332.1 C408.8 334.1 411.4 336.2 413.9 338.3 C416.4 340.5 418.9 342.7 421.4 345.0 C423.9 347.3 426.4 349.6 429.0 352.1 C431.5 354.6 434.0 357.1 436.5 359.7 C439.0 362.4 441.5 365.1 444.0 367.9 C446.6 370.7 449.1 373.6 451.6 376.5 C454.1 379.5 456.6 382.6 459.1 385.7 C461.6 388.8 464.2 392.1 466.7 395.4 C469.2 398.7 471.7 402.0 474.2 405.5 C476.7 409.0 479.2 412.5 481.8 416.2 C484.3 419.8 488.0 425.4 489.3 427.3" class="rp"/>
<path d="M172.3 292.7 C173.4 293.2 176.6 294.9 178.8 295.9 C181.0 297.0 183.1 298.0 185.3 298.9 C187.5 299.9 189.6 300.8 191.8 301.7 C194.0 302.7 196.1 303.5 198.3 304.4 C200.5 305.2 202.6 306.0 204.8 306.8 C207.0 307.6 209.1 308.4 211.3 309.2 C213.5 309.9 215.6 310.6 217.8 311.4 C220.0 312.1 222.1 312.8 224.3 313.5 C226.5 314.1 228.6 314.8 230.8 315.5 C233.0 316.1 235.1 316.8 237.3 317.4 C239.5 318.1 241.6 318.7 243.8 319.3 C246.0 320.0 248.1 320.6 250.3 321.2 C252.5 321.8 254.6 322.4 256.8 323.1 C259.0 323.7 261.1 324.3 263.3 325.0 C265.5 325.6 267.6 326.2 269.8 326.9 C272.0 327.5 274.1 328.2 276.3 328.9 C278.5 329.5 280.6 330.2 282.8 330.9 C285.0 331.6 287.1 332.3 289.3 333.1 C291.5 333.8 293.6 334.5 295.8 335.3 C298.0 336.1 300.1 336.9 302.3 337.7 C304.5 338.5 306.6 339.4 308.8 340.2 C311.0 341.1 313.1 342.0 315.3 342.9 C317.5 343.9 319.6 344.8 321.8 345.8 C324.0 346.9 326.1 347.9 328.3 349.0 C330.5 350.0 332.6 351.1 334.8 352.3 C337.0 353.5 339.1 354.7 341.3 355.9 C343.5 357.1 345.6 358.4 347.8 359.8 C350.0 361.1 352.1 362.5 354.3 363.9 C356.5 365.3 358.6 366.8 360.8 368.3 C363.0 369.9 365.1 371.4 367.3 373.0 C369.5 374.7 371.6 376.3 373.8 378.0 C376.0 379.7 378.1 381.4 380.3 383.2 C382.5 385.0 384.6 386.8 386.8 388.6 C389.0 390.5 391.1 392.4 393.3 394.3 C395.5 396.2 397.6 398.1 399.8 400.2 C402.0 402.2 404.1 404.3 406.3 406.5 C408.5 408.7 410.6 410.9 412.8 413.4 C415.0 415.8 417.1 418.3 419.3 421.1 C421.5 423.8 423.6 426.7 425.8 429.9 C428.0 433.0 431.2 438.3 432.3 440.0" class="rp"/>
<path d="M156.7 341.2 C157.6 341.6 160.4 342.9 162.3 343.7 C164.1 344.5 166.0 345.3 167.8 346.1 C169.7 346.9 171.6 347.6 173.4 348.4 C175.3 349.1 177.1 349.8 179.0 350.5 C180.8 351.2 182.7 351.9 184.5 352.6 C186.4 353.2 188.3 353.9 190.1 354.5 C192.0 355.2 193.8 355.8 195.7 356.4 C197.5 357.0 199.4 357.6 201.3 358.2 C203.1 358.8 205.0 359.4 206.8 360.0 C208.7 360.6 210.5 361.2 212.4 361.7 C214.3 362.3 216.1 362.9 218.0 363.4 C219.8 364.0 221.7 364.6 223.5 365.1 C225.4 365.7 227.3 366.2 229.1 366.8 C231.0 367.4 232.8 367.9 234.7 368.5 C236.5 369.0 238.4 369.6 240.2 370.2 C242.1 370.8 244.0 371.3 245.8 371.9 C247.7 372.5 249.5 373.1 251.4 373.7 C253.2 374.3 255.1 374.9 257.0 375.5 C258.8 376.1 260.7 376.7 262.5 377.4 C264.4 378.0 266.2 378.7 268.1 379.3 C270.0 380.0 271.8 380.7 273.7 381.4 C275.5 382.1 277.4 382.8 279.2 383.5 C281.1 384.2 283.0 385.0 284.8 385.8 C286.7 386.5 288.5 387.3 290.4 388.1 C292.2 388.9 294.1 389.8 295.9 390.6 C297.8 391.5 299.7 392.3 301.5 393.3 C303.4 394.2 305.2 395.1 307.1 396.0 C308.9 397.0 310.8 398.0 312.7 399.0 C314.5 400.0 316.4 401.1 318.2 402.1 C320.1 403.2 321.9 404.3 323.8 405.5 C325.7 406.6 327.5 407.8 329.4 409.0 C331.2 410.2 333.1 411.4 334.9 412.7 C336.8 414.0 338.7 415.3 340.5 416.7 C342.4 418.0 344.2 419.4 346.1 420.9 C347.9 422.3 349.8 423.8 351.6 425.3 C353.5 426.8 355.4 428.4 357.2 430.0 C359.1 431.6 360.9 433.3 362.8 435.0 C364.6 436.7 366.5 438.4 368.4 440.2 C370.2 442.0 372.1 443.9 373.9 445.8 C375.8 447.7 378.6 450.6 379.5 451.6" class="rp"/>
<path d="M149.0 364.0 C149.8 364.3 152.3 365.3 153.9 365.9 C155.6 366.5 157.2 367.1 158.9 367.7 C160.5 368.2 162.2 368.8 163.8 369.4 C165.5 369.9 167.1 370.5 168.8 371.0 C170.4 371.6 172.0 372.1 173.7 372.6 C175.3 373.2 177.0 373.7 178.6 374.2 C180.3 374.7 181.9 375.2 183.6 375.7 C185.2 376.2 186.9 376.7 188.5 377.2 C190.1 377.7 191.8 378.2 193.4 378.7 C195.1 379.2 196.7 379.6 198.4 380.1 C200.0 380.6 201.7 381.1 203.3 381.6 C205.0 382.0 206.6 382.5 208.2 383.0 C209.9 383.5 211.5 384.0 213.2 384.4 C214.8 384.9 216.5 385.4 218.1 385.9 C219.8 386.4 221.4 386.9 223.1 387.4 C224.7 387.9 226.4 388.4 228.0 388.9 C229.6 389.4 231.3 389.9 232.9 390.5 C234.6 391.0 236.2 391.5 237.9 392.0 C239.5 392.6 241.2 393.1 242.8 393.7 C244.5 394.3 246.1 394.8 247.8 395.4 C249.4 396.0 251.0 396.6 252.7 397.2 C254.3 397.8 256.0 398.4 257.6 399.0 C259.3 399.7 260.9 400.3 262.6 401.0 C264.2 401.6 265.9 402.3 267.5 403.0 C269.1 403.7 270.8 404.4 272.4 405.1 C274.1 405.8 275.7 406.6 277.4 407.3 C279.0 408.1 280.7 408.9 282.3 409.7 C284.0 410.5 285.6 411.3 287.2 412.2 C288.9 413.0 290.5 413.9 292.2 414.7 C293.8 415.6 295.5 416.5 297.1 417.5 C298.8 418.4 300.4 419.4 302.1 420.4 C303.7 421.3 305.4 422.3 307.0 423.4 C308.6 424.4 310.3 425.5 311.9 426.6 C313.6 427.7 315.2 428.8 316.9 429.9 C318.5 431.1 320.2 432.3 321.8 433.5 C323.5 434.7 325.1 435.9 326.8 437.2 C328.4 438.4 330.0 439.7 331.7 441.1 C333.3 442.4 335.0 443.8 336.6 445.2 C338.3 446.6 339.9 448.0 341.6 449.5 C343.2 451.0 345.7 453.2 346.5 454.0" class="rp"/>
<path d="M140.7 385.0 C141.5 385.2 143.7 386.0 145.2 386.4 C146.7 386.9 148.2 387.3 149.7 387.8 C151.2 388.3 152.7 388.7 154.2 389.1 C155.7 389.6 157.2 390.0 158.7 390.5 C160.2 390.9 161.7 391.3 163.2 391.8 C164.7 392.2 166.2 392.6 167.7 393.0 C169.2 393.5 170.8 393.9 172.3 394.3 C173.8 394.7 175.3 395.1 176.8 395.5 C178.3 396.0 179.8 396.4 181.3 396.8 C182.8 397.2 184.3 397.6 185.8 398.0 C187.3 398.5 188.8 398.9 190.3 399.3 C191.8 399.7 193.3 400.1 194.8 400.6 C196.3 401.0 197.8 401.4 199.3 401.9 C200.8 402.3 202.3 402.7 203.8 403.2 C205.3 403.6 206.8 404.0 208.3 404.5 C209.8 404.9 211.3 405.4 212.8 405.9 C214.3 406.3 215.8 406.8 217.3 407.3 C218.8 407.7 220.3 408.2 221.8 408.7 C223.3 409.2 224.8 409.7 226.3 410.2 C227.8 410.7 229.3 411.2 230.8 411.7 C232.4 412.3 233.9 412.8 235.4 413.3 C236.9 413.9 238.4 414.4 239.9 415.0 C241.4 415.6 242.9 416.1 244.4 416.7 C245.9 417.3 247.4 417.9 248.9 418.5 C250.4 419.1 251.9 419.8 253.4 420.4 C254.9 421.0 256.4 421.7 257.9 422.4 C259.4 423.0 260.9 423.7 262.4 424.4 C263.9 425.1 265.4 425.8 266.9 426.5 C268.4 427.3 269.9 428.0 271.4 428.8 C272.9 429.5 274.4 430.3 275.9 431.1 C277.4 431.9 278.9 432.7 280.4 433.6 C281.9 434.4 283.4 435.3 284.9 436.1 C286.4 437.0 287.9 437.9 289.4 438.8 C290.9 439.7 292.5 440.7 294.0 441.6 C295.5 442.6 297.0 443.6 298.5 444.6 C300.0 445.5 301.5 446.6 303.0 447.6 C304.5 448.7 306.0 449.7 307.5 450.8 C309.0 451.9 310.5 453.0 312.0 454.2 C313.5 455.3 315.0 456.5 316.5 457.7 C318.0 458.8 320.2 460.7 321.0 461.3" class="rp"/>
<path d="M132.7 402.4 C133.4 402.6 135.5 403.1 136.8 403.4 C138.2 403.8 139.6 404.1 141.0 404.5 C142.3 404.8 143.7 405.2 145.1 405.5 C146.5 405.9 147.9 406.2 149.2 406.6 C150.6 406.9 152.0 407.2 153.4 407.6 C154.7 407.9 156.1 408.3 157.5 408.6 C158.9 409.0 160.2 409.3 161.6 409.7 C163.0 410.1 164.4 410.4 165.8 410.8 C167.1 411.1 168.5 411.5 169.9 411.8 C171.3 412.2 172.6 412.6 174.0 412.9 C175.4 413.3 176.8 413.7 178.2 414.1 C179.5 414.4 180.9 414.8 182.3 415.2 C183.7 415.6 185.0 416.0 186.4 416.4 C187.8 416.7 189.2 417.1 190.6 417.5 C191.9 417.9 193.3 418.3 194.7 418.8 C196.1 419.2 197.4 419.6 198.8 420.0 C200.2 420.4 201.6 420.8 203.0 421.3 C204.3 421.7 205.7 422.1 207.1 422.6 C208.5 423.0 209.8 423.5 211.2 423.9 C212.6 424.4 214.0 424.9 215.3 425.3 C216.7 425.8 218.1 426.3 219.5 426.8 C220.9 427.3 222.2 427.7 223.6 428.2 C225.0 428.7 226.4 429.3 227.7 429.8 C229.1 430.3 230.5 430.8 231.9 431.4 C233.3 431.9 234.6 432.4 236.0 433.0 C237.4 433.5 238.8 434.1 240.1 434.7 C241.5 435.2 242.9 435.8 244.3 436.4 C245.7 437.0 247.0 437.6 248.4 438.2 C249.8 438.8 251.2 439.5 252.5 440.1 C253.9 440.7 255.3 441.4 256.7 442.0 C258.1 442.7 259.4 443.3 260.8 444.0 C262.2 444.7 263.6 445.4 264.9 446.1 C266.3 446.8 267.7 447.5 269.1 448.2 C270.4 449.0 271.8 449.7 273.2 450.5 C274.6 451.2 276.0 452.0 277.3 452.8 C278.7 453.5 280.1 454.3 281.5 455.1 C282.8 455.9 284.2 456.8 285.6 457.6 C287.0 458.4 288.4 459.3 289.7 460.1 C291.1 461.0 292.5 461.9 293.9 462.8 C295.2 463.7 297.3 465.0 298.0 465.5" class="rp"/>
<path d="M124.5 419.0 C125.1 419.2 126.9 419.7 128.1 420.0 C129.3 420.3 130.5 420.6 131.7 420.9 C132.9 421.3 134.1 421.6 135.3 421.9 C136.5 422.2 137.7 422.5 138.8 422.8 C140.0 423.1 141.2 423.4 142.4 423.8 C143.6 424.1 144.8 424.4 146.0 424.7 C147.2 425.0 148.4 425.3 149.6 425.6 C150.8 425.9 152.0 426.2 153.2 426.5 C154.4 426.8 155.6 427.1 156.8 427.4 C158.0 427.7 159.2 428.0 160.4 428.3 C161.6 428.6 162.8 428.9 164.0 429.2 C165.2 429.6 166.4 429.9 167.6 430.2 C168.7 430.5 169.9 430.8 171.1 431.1 C172.3 431.4 173.5 431.7 174.7 432.1 C175.9 432.4 177.1 432.7 178.3 433.0 C179.5 433.3 180.7 433.7 181.9 434.0 C183.1 434.3 184.3 434.7 185.5 435.0 C186.7 435.3 187.9 435.7 189.1 436.0 C190.3 436.4 191.5 436.7 192.7 437.1 C193.9 437.4 195.1 437.8 196.2 438.1 C197.4 438.5 198.6 438.9 199.8 439.3 C201.0 439.6 202.2 440.0 203.4 440.4 C204.6 440.8 205.8 441.2 207.0 441.6 C208.2 441.9 209.4 442.4 210.6 442.8 C211.8 443.2 213.0 443.6 214.2 444.0 C215.4 444.4 216.6 444.9 217.8 445.3 C219.0 445.7 220.2 446.2 221.4 446.6 C222.6 447.1 223.8 447.5 224.9 448.0 C226.1 448.5 227.3 448.9 228.5 449.4 C229.7 449.9 230.9 450.4 232.1 450.9 C233.3 451.4 234.5 451.9 235.7 452.4 C236.9 452.9 238.1 453.5 239.3 454.0 C240.5 454.5 241.7 455.1 242.9 455.7 C244.1 456.2 245.3 456.8 246.5 457.4 C247.7 457.9 248.9 458.5 250.1 459.1 C251.3 459.7 252.5 460.3 253.7 461.0 C254.8 461.6 256.0 462.2 257.2 462.9 C258.4 463.5 259.6 464.2 260.8 464.8 C262.0 465.5 263.2 466.2 264.4 466.9 C265.6 467.6 267.4 468.6 268.0 469.0" class="rp"/>
<path d="M116.0 434.5 C116.5 434.6 118.1 435.0 119.1 435.2 C120.1 435.5 121.2 435.7 122.2 435.9 C123.3 436.2 124.3 436.4 125.3 436.7 C126.4 436.9 127.4 437.1 128.4 437.4 C129.5 437.6 130.5 437.9 131.6 438.1 C132.6 438.4 133.6 438.6 134.7 438.8 C135.7 439.1 136.8 439.3 137.8 439.6 C138.8 439.8 139.9 440.1 140.9 440.3 C141.9 440.6 143.0 440.8 144.0 441.1 C145.0 441.3 146.1 441.6 147.1 441.9 C148.2 442.1 149.2 442.4 150.2 442.6 C151.3 442.9 152.3 443.2 153.3 443.4 C154.4 443.7 155.4 443.9 156.5 444.2 C157.5 444.5 158.5 444.8 159.6 445.0 C160.6 445.3 161.7 445.6 162.7 445.8 C163.7 446.1 164.8 446.4 165.8 446.7 C166.8 447.0 167.9 447.2 168.9 447.5 C169.9 447.8 171.0 448.1 172.0 448.4 C173.1 448.7 174.1 449.0 175.1 449.3 C176.2 449.5 177.2 449.8 178.2 450.1 C179.3 450.4 180.3 450.7 181.4 451.1 C182.4 451.4 183.4 451.7 184.5 452.0 C185.5 452.3 186.5 452.6 187.6 452.9 C188.6 453.2 189.7 453.6 190.7 453.9 C191.7 454.2 192.8 454.5 193.8 454.9 C194.8 455.2 195.9 455.5 196.9 455.9 C198.0 456.2 199.0 456.6 200.0 456.9 C201.1 457.2 202.1 457.6 203.1 457.9 C204.2 458.3 205.2 458.7 206.3 459.0 C207.3 459.4 208.3 459.7 209.4 460.1 C210.4 460.5 211.5 460.9 212.5 461.2 C213.5 461.6 214.6 462.0 215.6 462.4 C216.6 462.8 217.7 463.1 218.7 463.5 C219.7 463.9 220.8 464.3 221.8 464.7 C222.9 465.1 223.9 465.5 224.9 466.0 C226.0 466.4 227.0 466.8 228.1 467.2 C229.1 467.6 230.1 468.1 231.2 468.5 C232.2 468.9 233.2 469.4 234.3 469.8 C235.3 470.2 236.3 470.7 237.4 471.1 C238.4 471.6 240.0 472.3 240.5 472.5" class="rp"/>
<path d="M108.7 447.5 C109.1 447.6 110.4 447.8 111.3 447.9 C112.1 448.1 113.0 448.2 113.9 448.4 C114.7 448.5 115.6 448.7 116.4 448.8 C117.3 449.0 118.2 449.2 119.0 449.3 C119.9 449.5 120.8 449.6 121.6 449.8 C122.5 450.0 123.3 450.2 124.2 450.3 C125.1 450.5 125.9 450.7 126.8 450.9 C127.6 451.1 128.5 451.3 129.4 451.4 C130.2 451.6 131.1 451.8 131.9 452.0 C132.8 452.2 133.7 452.4 134.5 452.6 C135.4 452.8 136.2 453.0 137.1 453.2 C138.0 453.4 138.8 453.6 139.7 453.8 C140.6 454.0 141.4 454.3 142.3 454.5 C143.1 454.7 144.0 454.9 144.9 455.1 C145.7 455.3 146.6 455.6 147.4 455.8 C148.3 456.0 149.2 456.2 150.0 456.5 C150.9 456.7 151.7 456.9 152.6 457.1 C153.5 457.4 154.3 457.6 155.2 457.8 C156.0 458.1 156.9 458.3 157.8 458.6 C158.6 458.8 159.5 459.0 160.3 459.3 C161.2 459.5 162.1 459.8 162.9 460.0 C163.8 460.2 164.7 460.5 165.5 460.7 C166.4 461.0 167.2 461.2 168.1 461.5 C169.0 461.7 169.8 462.0 170.7 462.2 C171.5 462.5 172.4 462.8 173.3 463.0 C174.1 463.3 175.0 463.5 175.8 463.8 C176.7 464.0 177.6 464.3 178.4 464.6 C179.3 464.8 180.1 465.1 181.0 465.3 C181.9 465.6 182.7 465.9 183.6 466.1 C184.5 466.4 185.3 466.7 186.2 466.9 C187.0 467.2 187.9 467.5 188.8 467.7 C189.6 468.0 190.5 468.3 191.3 468.5 C192.2 468.8 193.1 469.1 193.9 469.3 C194.8 469.6 195.6 469.9 196.5 470.1 C197.4 470.4 198.2 470.7 199.1 470.9 C199.9 471.2 200.8 471.5 201.7 471.8 C202.5 472.0 203.4 472.3 204.3 472.6 C205.1 472.8 206.0 473.1 206.8 473.4 C207.7 473.7 208.6 473.9 209.4 474.2 C210.3 474.5 211.6 474.9 212.0 475.0" class="rp"/>
<rect x="162.1" y="151.3" width="44.4" height="14.6" class="bx"/>
<text x="168.0" y="161.9" class="lb" textLength="31.6" lengthAdjust="spacingAndGlyphs">RPM 3900</text>
<rect x="143.0" y="224.1" width="44.9" height="13.8" class="bx"/>
<text x="148.9" y="234.3" class="lb" textLength="31.6" lengthAdjust="spacingAndGlyphs">RPM 3400</text>
<rect x="126.7" y="280.6" width="45.2" height="13.8" class="bx"/>
<text x="132.6" y="290.8" class="lb" textLength="31.6" lengthAdjust="spacingAndGlyphs">RPM 3000</text>
<rect x="111.6" y="327.7" width="45.6" height="13.8" class="bx"/>
<text x="117.5" y="337.9" class="lb" textLength="31.6" lengthAdjust="spacingAndGlyphs">RPM 2600</text>
<rect x="102.7" y="350.5" width="46.3" height="14.0" class="bx"/>
<text x="108.6" y="360.8" class="lb" textLength="31.6" lengthAdjust="spacingAndGlyphs">RPM 2400</text>
<rect x="95.6" y="370.6" width="45.6" height="15.4" class="bx"/>
<text x="101.5" y="381.6" class="lb" textLength="31.6" lengthAdjust="spacingAndGlyphs">RPM 2200</text>
<rect x="84.4" y="388.5" width="48.3" height="15.1" class="bx"/>
<text x="90.3" y="399.4" class="lb" textLength="31.6" lengthAdjust="spacingAndGlyphs">RPM 2000</text>
<rect x="79.1" y="405.7" width="45.2" height="14.3" class="bx"/>
<text x="85.0" y="416.2" class="lb" textLength="31.6" lengthAdjust="spacingAndGlyphs">RPM 1800</text>
<rect x="70.0" y="421.0" width="45.6" height="14.0" class="bx"/>
<text x="75.9" y="431.3" class="lb" textLength="31.6" lengthAdjust="spacingAndGlyphs">RPM 1600</text>
<rect x="62.4" y="436.2" width="45.4" height="14.4" class="bx"/>
<text x="68.3" y="446.7" class="lb" textLength="31.6" lengthAdjust="spacingAndGlyphs">RPM 1400</text>
<text x="317" y="511.3" text-anchor="middle" class="at">Vzduchový výkon [m<tspan dy="-2.6" font-size="5">3</tspan><tspan dy="2.6">/h]</tspan></text>
<text transform="translate(32.9,311.8) rotate(-90)" text-anchor="middle" class="at" style="font-size:8.1px">Dostupný statický tlak [Pa]</text>
<text x="14" y="96.0" class="ti">TLAKOVO-VÝKONOVÉ KRIVKY</text>
<text x="576.3" y="139.9" text-anchor="end" class="rn">RPM - otáčky/min</text>
</svg>
<div id="note">
<div style="top:4.86px">Pri návrhu rekuperačnej jednotky je potrebné</div>
<div style="top:13.46px">vychádzať z požadovaného <span>(vypočítaného)</span></div>
<div style="top:22.06px">vzduchového výkonu a externého tlaku pre</div>
<div style="top:30.66px">konkrétnu aplikáciu. Nominálny vzduchový</div>
<div style="top:39.26px">výkon by mal byť zvolený na úrovni cca 70-</div>
<div style="top:47.96px">80% z max. výkonu jednotky <span>(odporúčaná hodno-</span></div>
<div class="sm" style="top:56.49px">ta z hľadiska zohľadnenia celkovej spotreby elektrickej</div>
<div class="sm" style="top:64.14px">energie, tepelnej účinnosti, hlučnosti, možnosti väčšie-</div>
<div class="sm last" style="top:71.69px">ho nastavenia otáčok pre BOOST režim).</div>
</div>
</body>
</html>
